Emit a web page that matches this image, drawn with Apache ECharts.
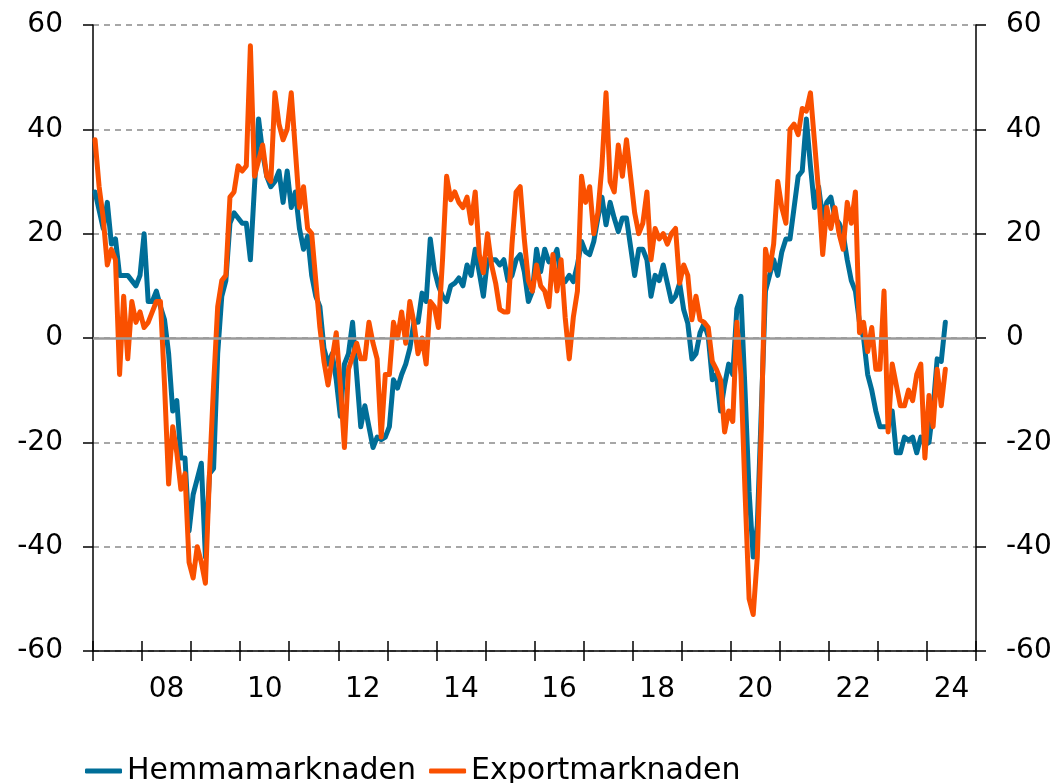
<!DOCTYPE html>
<html>
<head>
<meta charset="utf-8">
<script src="https://cdn.jsdelivr.net/npm/echarts@6/dist/echarts.min.js"></script>
<style>
  html, body { margin: 0; padding: 0; background: #fff; }
  #chart { width: 1063px; height: 783px; }
</style>
</head>
<body>
<div id="chart"></div>
<script>
// years on the axis (Jan 2007 - Dec 2024), labels shown every other year
const years = ['07','08','09','10','11','12','13','14','15','16','17','18','19','20','21','22','23','24'];

// monthly values, first point Jan 2007
const hemmamarknaden = [
  28, 24.5, 21, 26, 18, 19, 12, 12, 12, 11, 10, 12,
  20, 7, 7, 9, 6, 3.5, -3, -14, -12, -23, -23, -37,
  -30, -27, -24, -42, -26, -25, -3, 8, 11, 22, 24, 23,
  22, 22, 15, 29, 42, 35.5, 31, 29, 30, 32, 26, 32,
  25, 28, 21, 17, 19.5, 12, 8, 6, -2, -5, -3, -8,
  -15, -5, -3, 3, -7, -17, -13, -17, -21, -19, -19.5, -19,
  -17, -8, -9.6, -7, -5, -2, 3, 3, 8.6, 7, 19, 13,
  10, 8, 7, 10, 10.5, 11.5, 10, 14, 12, 17, 12.5, 8,
  15, 15, 15, 14, 15, 11, 12, 15, 16, 12.7, 7, 9,
  17, 12.7, 17, 14.6, 15, 17, 11.4, 10.8, 12, 10.8, 14, 18.5,
  16.5, 16, 18.5, 23, 27, 21.7, 26, 23, 20.4, 23, 23, 17.5,
  12, 17, 17, 15, 8, 12, 11, 14, 10.5, 7, 8, 10.5,
  5.4, 2.8, -4, -3, 1, 2.8, 0.3, -8, -7, -14, -9, -5,
  -7, 5.6, 8, -10, -29.5, -42, -36, -13.5, 9, 12, 15, 12,
  16.5, 19, 19, 25, 31, 32, 42, 33, 25, 29, 23, 26,
  27, 23, 22, 20, 15, 11, 9, 3, 0, -7, -10, -14,
  -17, -17, -17, -14, -22, -22, -19, -19.6, -19, -22, -19, -20.5,
  -20, -13.5, -4, -4.5, 3
];

const exportmarknaden = [
  38, 29, 23, 14, 17, 15, -7, 8, -4, 7, 3, 5,
  2, 3, 5, 7, 7, -9, -28, -17, -22, -29, -26, -43,
  -46, -40, -43, -47, -26, -9, 6, 11, 12, 27, 28, 33,
  32, 33, 56, 31, 34, 37, 31, 30, 47, 41, 38, 40,
  47, 36, 25, 29, 21, 20, 11, 2, -4.5, -9, -4, 1,
  -9, -21, -6, -3.5, -1, -4, -4, 3, -1, -4, -19, -7,
  -7, 3, 0, 5, -1, 7, 3, -3, 0, -5, 7, 6,
  2, 15, 31, 26.5, 28, 26, 25, 27, 22, 28, 16, 12.5,
  20, 14, 10.5, 5.5, 5, 5, 18, 28, 29, 19, 11, 9,
  14, 10, 9, 6, 16, 9, 15, 4, -4, 4, 9, 31,
  26, 29, 20, 24, 33, 47, 30, 28, 37, 31, 38, 31,
  24, 20, 22, 28, 15, 21, 19, 20, 18, 20, 21, 10.5,
  14, 12, 3.5, 8, 3.5, 3, 2, -4.5, -6, -8, -18, -14,
  -16, 3, -7, -29.5, -50, -53, -42, -17, 17, 13, 18, 30,
  25, 22, 40, 41, 39, 44, 43.5, 47, 37.6, 28, 16, 25,
  21, 25, 20, 17, 26, 22, 28, 1, 3, -2.6, 2, -6,
  -6, 9, -18, -5, -9, -13, -13, -10, -12, -7, -5, -23,
  -11, -17, -6, -13, -6
];

const yMin = -60, yMax = 60, yStep = 20;

const months = [];
years.forEach(y => {
  for (let m = 1; m <= 12; m++) months.push(y + '-' + m);
});

const FONT = "'DejaVu Sans', Verdana, sans-serif";
const BLUE = '#006e98';
const ORANGE = '#fa5000';

const chart = echarts.init(document.getElementById('chart'), null, { renderer: 'canvas' });

const yAxisBase = {
  type: 'value',
  min: yMin,
  max: yMax,
  interval: yStep,
  axisLine: { show: true, lineStyle: { color: '#000', width: 1.5 } },
  axisTick: { show: true, inside: false, length: 10, lineStyle: { color: '#000', width: 1.5 } },
  axisLabel: { color: '#000', fontSize: 28, fontFamily: FONT, margin: 30 }
};

chart.setOption({
  animation: false,
  backgroundColor: '#fff',
  grid: { left: 93, right: 87, top: 25, bottom: 132, containLabel: false },
  legend: {
    data: ['Hemmamarknaden', 'Exportmarknaden'],
    left: 80,
    top: 751,
    icon: 'roundRect',
    itemWidth: 37,
    itemHeight: 5,
    itemGap: 13,
    textStyle: { color: '#000', fontSize: 30, fontFamily: FONT }
  },
  xAxis: [
    {
      type: 'category',
      data: years,
      boundaryGap: true,
      position: 'bottom',
      axisLine: { show: true, onZero: false, lineStyle: { color: '#000', width: 1.5 } },
      axisTick: { show: true, inside: false, length: 10, interval: 0, lineStyle: { color: '#000', width: 1.5 } },
      axisLabel: {
        color: '#000', fontSize: 28, fontFamily: FONT, margin: 25,
        interval: (i) => i % 2 === 1
      },
      splitLine: { show: false }
    },
    {
      type: 'category',
      data: months,
      boundaryGap: true,
      show: false
    },
    {
      type: 'category',
      data: years,
      boundaryGap: true,
      position: 'bottom',
      axisLine: { show: false, onZero: false },
      axisTick: { show: true, inside: true, length: 10, interval: 0, lineStyle: { color: '#000', width: 1.5 } },
      axisLabel: { show: false },
      splitLine: { show: false }
    }
  ],
  yAxis: [
    Object.assign({}, yAxisBase, {
      position: 'left',
      splitLine: { show: true, lineStyle: { color: '#8a8a8a', width: 1.5, type: [6, 5] } }
    }),
    Object.assign({}, yAxisBase, {
      position: 'right',
      splitLine: { show: false }
    })
  ],
  series: [
    {
      name: 'Hemmamarknaden',
      type: 'line',
      xAxisIndex: 1,
      yAxisIndex: 0,
      data: hemmamarknaden,
      showSymbol: false,
      symbol: 'none',
      color: BLUE,
      lineStyle: { color: BLUE, width: 5, cap: 'round', join: 'round' },
      markLine: {
        silent: true,
        symbol: 'none',
        label: { show: false },
        lineStyle: { color: '#9a9a9a', width: 2.5, type: 'solid' },
        data: [{ yAxis: 0 }]
      }
    },
    {
      name: 'Exportmarknaden',
      type: 'line',
      xAxisIndex: 1,
      yAxisIndex: 0,
      data: exportmarknaden,
      showSymbol: false,
      symbol: 'none',
      color: ORANGE,
      lineStyle: { color: ORANGE, width: 5, cap: 'round', join: 'round' }
    }
  ]
});
</script>
</body>
</html>
